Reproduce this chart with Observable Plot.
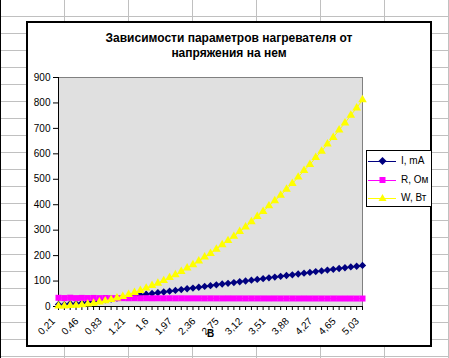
<!DOCTYPE html>
<html><head><meta charset="utf-8">
<script src="https://cdn.jsdelivr.net/npm/d3@7"></script>
<script src="https://cdn.jsdelivr.net/npm/@observablehq/plot@0.6"></script>
<style>
html,body{margin:0;padding:0;background:#fff;}
#page{position:relative;width:449px;height:358px;overflow:hidden;font-family:"Liberation Sans",Arial,sans-serif;color:#000;
 background-color:#fff;
 background-image:
   linear-gradient(to right,#000 0,#000 1px,transparent 1px),
   repeating-linear-gradient(to right,transparent 0 63px,#c0c0c0 63px 64px),
   repeating-linear-gradient(to bottom,transparent 0 16px,#c0c0c0 16px 17px);
 background-position:0 0,1px 0,0 0;
}
#box{position:absolute;left:26px;top:21px;width:402px;height:322px;border:2px solid #000;background:#fff;}
#title{position:absolute;left:26px;width:406px;top:31px;text-align:center;font-weight:bold;font-size:12px;line-height:15px;}
#chart{position:absolute;left:0;top:0;}
#legend{position:absolute;left:366px;top:150px;width:64px;height:55px;border:1px solid #000;background:#fff;font-size:10px;}
#legend .row{position:absolute;left:0;height:14px;width:64px;}
#legend svg{position:absolute;left:0;top:0;}
#legend span{position:absolute;left:34px;top:1px;line-height:12px;white-space:nowrap;}
</style></head>
<body>
<div id="page">
  <div id="box"></div>
  <div id="title">Зависимости параметров нагревателя от<br>напряжения на нем</div>
  <div id="chart"></div>
  <div id="legend"></div>
</div>
<script>
// Voltage categories, V
const U = [0.21,0.27,0.33,0.40,0.46,0.55,0.64,0.74,0.83,0.92,
           1.02,1.11,1.21,1.31,1.40,1.50,1.60,1.69,1.78,1.88,
           1.97,2.07,2.17,2.26,2.36,2.46,2.55,2.65,2.75,2.84,
           2.93,3.03,3.12,3.22,3.32,3.41,3.51,3.60,3.69,3.79,
           3.88,3.98,4.08,4.17,4.27,4.36,4.46,4.55,4.65,4.74,
           4.84,4.93,5.03];
// Current, mA
const I = [8.0,7.0,11.5,11.0,14.0,17.0,20.0,23.5,26.6,29.5,
           32.7,35.6,38.8,42.1,44.9,48.2,51.4,54.2,57.1,60.3,
           63.2,66.4,69.7,72.5,75.8,79.0,81.9,85.1,88.3,91.2,
           94.1,97.3,100.2,103.4,106.6,109.5,112.7,115.6,118.4,121.7,
           124.5,127.8,131.0,133.9,137.1,140.0,143.2,146.1,149.3,152.2,
           155.4,158.3,161.5];
// Resistance, Ohm
const R = [34.2,33.1,34.5,33.0,33.8,33.2,33.6,32.9,33.3,32.8,
           32.6,32.9,32.5,32.7,32.4,32.6,32.3,32.4,32.2,32.3,
           32.1,32.2,32.0,32.1,32.0,31.9,32.0,31.9,31.8,31.9,
           31.8,31.8,31.7,31.8,31.7,31.7,31.6,31.7,31.6,31.6,
           31.6,31.5,31.6,31.5,31.5,31.5,31.4,31.5,31.4,31.4,
           31.4,31.3,31.3];
// Power (W, Вт as labelled)
const W = [1.7,1.9,3.8,4.4,6.4,9.4,12.8,17.4,22.1,27.1,
           33.4,39.5,47.0,55.1,62.9,72.2,82.2,91.7,101.7,113.5,
           124.6,137.6,151.2,163.9,178.8,194.3,208.7,225.4,242.7,258.9,
           275.6,294.7,312.4,332.7,353.8,373.2,395.5,416.0,437.1,461.1,
           483.2,508.5,534.3,558.2,585.2,610.2,638.5,664.5,694.0,721.2,
           751.9,780.2,812.2];
const yTicks = [0,100,200,300,400,500,600,700,800,900];
const labelEvery = 4;
const seriesNames = ["I, mA","R, Ом","W, Вт"];
const seriesColors = ["#000080","#ff00ff","#ffff00"];
const xTitle = "В";

const data = U.map((u,i)=>({i, u, I:I[i], R:R[i], W:W[i]}));
const catIdx = U.map((_,i)=>i);
const labelIdx = catIdx.filter(i => i % labelEvery === 0);
const fmt = v => String(v).replace(".", ",");

const chart = Plot.plot({
  width:449, height:358,
  marginLeft:58, marginRight:87, marginTop:77, marginBottom:52,
  style:{background:"transparent", fontFamily:"'Liberation Sans',Arial,sans-serif", fontSize:"10px", color:"#000", overflow:"visible"},
  x:{type:"linear", domain:[0, U.length-1], axis:null},
  y:{domain:[0,900], axis:null},
  marks:[
    Plot.frame({fill:"#e0e0e0", stroke:"#808080"}),
    Plot.axisY({ticks:yTicks, tickSize:5, tickPadding:3, tickFormat:d=>String(d), label:null, fontSize:10, stroke:"#000"}),
    Plot.axisX({ticks:catIdx, tickSize:4, tickFormat:()=>"", label:null, stroke:"#000"}),
    Plot.axisX({ticks:labelIdx, tickSize:0, tickRotate:-45, tickPadding:13, dx:-5, tickFormat:i=>fmt(U[i]), label:null, fontSize:10}),
    Plot.ruleX([0], {stroke:"#000"}),
    Plot.ruleY([0], {stroke:"#000"}),
    Plot.line(data, {x:"i", y:"I", stroke:seriesColors[0], strokeWidth:1}),
    Plot.dot(data, {x:"i", y:"I", symbol:"diamond2", r:3.3, fill:seriesColors[0], stroke:"none"}),
    Plot.line(data, {x:"i", y:"R", stroke:seriesColors[1], strokeWidth:1}),
    Plot.dot(data, {x:"i", y:"R", symbol:"square", r:3.4, fill:seriesColors[1], stroke:"none"}),
    Plot.line(data, {x:"i", y:"W", stroke:seriesColors[2], strokeWidth:1}),
    Plot.dot(data, {x:"i", y:"W", symbol:"triangle", r:3.2, fill:seriesColors[2], stroke:"none"}),
    Plot.text([xTitle], {frameAnchor:"bottom", dy:30, fontWeight:"bold", fontSize:10})
  ]
});
document.getElementById("chart").appendChild(chart);

// Legend
const markerShapes = [
  c => `<polygon points="15.5,3 19.5,7 15.5,11 11.5,7" fill="${c}"/>`,
  c => `<rect x="12.5" y="4" width="6" height="6" fill="${c}"/>`,
  c => `<polygon points="15.5,3 19.5,10 11.5,10" fill="${c}"/>`
];
const leg = document.getElementById("legend");
const rowTops = [3, 22, 40];
seriesNames.forEach((name, k) => {
  const row = document.createElement("div");
  row.className = "row";
  row.style.top = rowTops[k] + "px";
  row.innerHTML = `<svg width="32" height="14"><line x1="1" x2="29" y1="7.5" y2="7.5" stroke="${seriesColors[k]}" stroke-width="1"/>${markerShapes[k](seriesColors[k])}</svg><span>${name}</span>`;
  leg.appendChild(row);
});
</script>
</body></html>
